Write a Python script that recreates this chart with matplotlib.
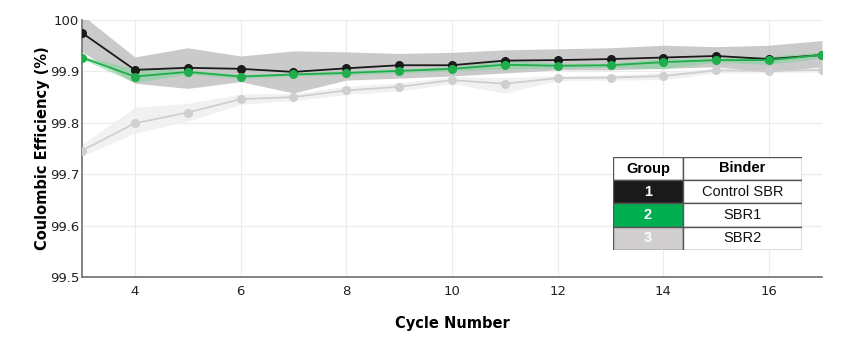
import matplotlib
matplotlib.use("Agg")
import matplotlib.pyplot as plt
from matplotlib.patches import Rectangle
import numpy as np

cycles = [3, 4, 5, 6, 7, 8, 9, 10, 11, 12, 13, 14, 15, 16, 17]

g1_mean = [99.975, 99.903, 99.907, 99.905, 99.899, 99.906, 99.912, 99.912, 99.921, 99.922, 99.924, 99.927, 99.930, 99.924, 99.932]
g1_upper = [100.01, 99.928, 99.946, 99.930, 99.940, 99.938, 99.935, 99.937, 99.942, 99.944, 99.946, 99.951, 99.948, 99.951, 99.960]
g1_lower = [99.938, 99.877, 99.867, 99.880, 99.858, 99.883, 99.887, 99.891, 99.897, 99.903, 99.903, 99.906, 99.909, 99.899, 99.909]

g2_mean = [99.927, 99.890, 99.899, 99.890, 99.894, 99.897, 99.901, 99.905, 99.913, 99.911, 99.912, 99.918, 99.922, 99.922, 99.932]
g2_upper = [99.930, 99.905, 99.903, 99.894, 99.897, 99.901, 99.905, 99.909, 99.922, 99.916, 99.916, 99.925, 99.926, 99.930, 99.938]
g2_lower = [99.924, 99.878, 99.895, 99.886, 99.891, 99.893, 99.897, 99.901, 99.905, 99.906, 99.908, 99.905, 99.918, 99.914, 99.926]

g3_mean = [99.746, 99.799, 99.820, 99.846, 99.850, 99.863, 99.870, 99.883, 99.876, 99.887, 99.888, 99.891, 99.902, 99.901, 99.903]
g3_upper = [99.758, 99.830, 99.838, 99.856, 99.857, 99.871, 99.878, 99.890, 99.888, 99.892, 99.893, 99.898, 99.907, 99.905, 99.907]
g3_lower = [99.735, 99.780, 99.803, 99.836, 99.843, 99.855, 99.862, 99.876, 99.858, 99.882, 99.883, 99.884, 99.897, 99.897, 99.899]

x_ticks = [4, 6, 8, 10, 12, 14, 16]
y_ticks = [99.5, 99.6, 99.7, 99.8, 99.9, 100]
y_ticklabels = ["99.5", "99.6", "99.7", "99.8", "99.9", "100"]

table_groups = ["1", "2", "3"]
table_binders = ["Control SBR", "SBR1", "SBR2"]

c1, c2, c3 = "#1a1a1a", "#1fae4b", "#cfcfcf"
fill1, fill2, fill3 = "#bdbdbd", "#7fd49a", "#eef1ef"

fig = plt.figure(figsize=(8.49, 3.41), dpi=100)
ax = fig.add_axes([82/849, 1-277/341, (822-82)/849, (277-20)/341])

ax.fill_between(cycles, g3_lower, g3_upper, color=fill3, alpha=0.9, lw=0, zorder=1)
ax.fill_between(cycles, g1_lower, g1_upper, color=fill1, alpha=0.8, lw=0, zorder=2)
ax.fill_between(cycles, g2_lower, g2_upper, color=fill2, alpha=0.55, lw=0, zorder=3)

ax.plot(cycles, g3_mean, color=c3, lw=1.3, marker="o", ms=5.5, zorder=4)
ax.plot(cycles, g1_mean, color=c1, lw=1.3, marker="o", ms=5.5, zorder=5)
ax.plot(cycles, g2_mean, color=c2, lw=1.3, marker="o", ms=5.5, zorder=6)

ax.set_xlim(3, 17)
ax.set_ylim(99.5, 100)
ax.set_xticks(x_ticks)
ax.set_yticks(y_ticks)
ax.set_yticklabels(y_ticklabels)
ax.tick_params(length=0, labelsize=9.5, colors="#222222")
ax.tick_params(axis="y", pad=2)
ax.tick_params(axis="x", pad=6)
ax.grid(True, color="#ececec", lw=0.9)
ax.set_axisbelow(True)
for s in ["top", "right"]:
    ax.spines[s].set_visible(False)
for s in ["left", "bottom"]:
    ax.spines[s].set_color("#6e6e6e")
    ax.spines[s].set_linewidth(1.2)
ax.set_xlabel("Cycle Number", fontsize=10.5, fontweight="bold", labelpad=13)
ax.set_ylabel("Coulombic Efficiency (%)", fontsize=10.5, fontweight="bold")
ax.yaxis.set_label_coords(-0.043, 0.5)

# table legend
tax = fig.add_axes([613/849, 1-250/341, (802-613)/849, (250-157)/341])
tax.set_xlim(0, 189)
tax.set_ylim(93, 0)
tax.axis("off")
row_h = [23, 23, 24, 23]
fills = [c1, "#00b050", "#d0cece"]
tf = ["Liberation Sans", "DejaVu Sans"]
tax.add_patch(Rectangle((0, 0), 70, 23, fc="white", ec="#555555", lw=1))
tax.add_patch(Rectangle((70, 0), 119, 23, fc="white", ec="#555555", lw=1))
tax.text(35, 11.5, "Group", ha="center", va="center", fontsize=10.5, fontweight="bold", family=tf)
tax.text(129.5, 11.5, "Binder", ha="center", va="center", fontsize=10.5, fontweight="bold", family=tf)
y0 = 23
for i, (g, b) in enumerate(zip(table_groups, table_binders)):
    h = row_h[i + 1]
    tax.add_patch(Rectangle((0, y0), 70, h, fc=fills[i], ec="#555555", lw=1))
    tax.add_patch(Rectangle((70, y0), 119, h, fc="white", ec="#555555", lw=1))
    tax.text(35, y0 + h/2, g, ha="center", va="center", fontsize=10.5, fontweight="bold", color="white", family=tf)
    tax.text(129.5, y0 + h/2, b, ha="center", va="center", fontsize=10.5, color="#111111", family=tf)
    y0 += h

fig.savefig("out.png", dpi=100)
